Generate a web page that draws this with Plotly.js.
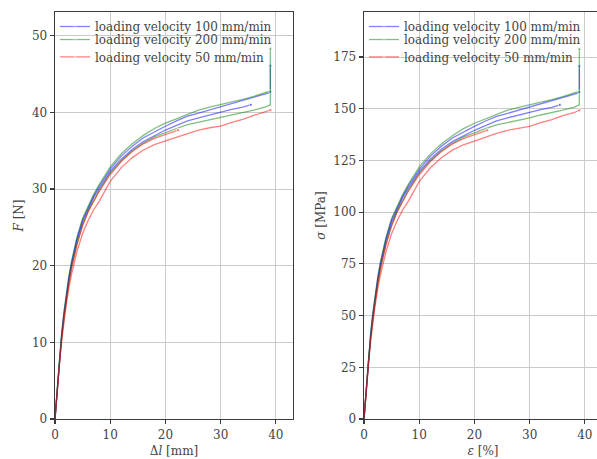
<!DOCTYPE html>
<html>
<head>
<meta charset="utf-8">
<script src="https://cdn.plot.ly/plotly-3.0.1.min.js"></script>
<style>
  html, body { margin: 0; padding: 0; overflow: hidden; background: #fff; }
  #chart { width: 620px; height: 459px; }
</style>
</head>
<body>
<div id="chart"></div>
<script>
// Tensile tests at three loading velocities.
// Left: force F [N] over elongation Δl [mm]; right: stress σ [MPa] over strain ε [%].
// Gauge length is 100 mm, so strain in % carries the same numbers as elongation in mm.

// 100 mm/min, specimen 1
const dl_v100_a = [0, 0.4, 0.8, 1.2, 1.6, 2.0, 2.5, 3.0, 4.0, 5.0, 6.0, 7.0, 8.0, 10, 12, 14, 16, 18, 20, 22, 24, 26, 28, 30, 32, 34, 36, 38, 39, 39];
const F_v100_a  = [0, 4.1, 7.9, 11.0, 13.7, 16.0, 18.4, 20.4, 23.6, 26.0, 27.6, 29.1, 30.4, 32.6, 34.3, 35.6, 36.7, 37.5, 38.2, 38.9, 39.5, 39.9, 40.3, 40.7, 41.1, 41.5, 41.9, 42.3, 42.6, 46.1];
const s_v100_a  = [0, 15.2, 29.3, 40.7, 50.7, 59.3, 68.1, 75.6, 87.4, 96.3, 102.2, 107.8, 112.6, 120.7, 127.0, 131.9, 135.9, 138.9, 141.5, 144.1, 146.3, 147.8, 149.3, 150.7, 152.2, 153.7, 155.2, 156.7, 157.8, 170.7];

// 100 mm/min, specimen 2
const dl_v100_b = [0, 0.4, 0.8, 1.2, 1.6, 2.0, 2.5, 3.0, 4.0, 5.0, 6.0, 7.0, 8.0, 10, 12, 14, 16, 18, 20, 22, 24, 26, 28, 30, 32, 34, 35.5];
const F_v100_b  = [0, 4.0, 7.7, 10.8, 13.4, 15.7, 18.1, 20.1, 23.3, 25.7, 27.4, 28.9, 30.1, 32.3, 33.9, 35.2, 36.2, 37.0, 37.7, 38.3, 38.9, 39.3, 39.7, 40.0, 40.4, 40.7, 41.0];
const s_v100_b  = [0, 14.8, 28.5, 40.0, 49.6, 58.1, 67.0, 74.4, 86.3, 95.2, 101.5, 107.0, 111.5, 119.6, 125.6, 130.4, 134.1, 137.0, 139.6, 141.9, 144.1, 145.6, 147.0, 148.1, 149.6, 150.7, 151.9];

// 200 mm/min, specimen 1
const dl_v200_a = [0, 0.4, 0.8, 1.2, 1.6, 2.0, 2.5, 3.0, 4.0, 5.0, 6.0, 7.0, 8.0, 10, 12, 14, 16, 18, 20, 22, 24, 26, 28, 30, 32, 34, 36, 38, 39, 39];
const F_v200_a  = [0, 4.2, 8.0, 11.2, 13.9, 16.2, 18.6, 20.6, 23.8, 26.2, 27.8, 29.3, 30.6, 32.9, 34.6, 35.9, 37.0, 37.9, 38.6, 39.2, 39.8, 40.3, 40.7, 41.0, 41.4, 41.7, 42.1, 42.5, 42.8, 48.3];
const s_v200_a  = [0, 15.6, 29.6, 41.5, 51.5, 60.0, 68.9, 76.3, 88.1, 97.0, 103.0, 108.5, 113.3, 121.9, 128.1, 133.0, 137.0, 140.4, 143.0, 145.2, 147.4, 149.3, 150.7, 151.9, 153.3, 154.4, 155.9, 157.4, 158.5, 178.9];

// 200 mm/min, specimen 2
const dl_v200_b = [0, 0.4, 0.8, 1.2, 1.6, 2.0, 2.5, 3.0, 4.0, 5.0, 6.0, 7.0, 8.0, 10, 12, 14, 16, 18, 20, 22, 24, 26, 28, 30, 32, 34, 36, 38, 39, 39];
const F_v200_b  = [0, 4.0, 7.6, 10.6, 13.2, 15.4, 17.8, 19.8, 22.9, 25.3, 27.1, 28.5, 29.8, 32.1, 33.7, 35.0, 36.0, 36.8, 37.4, 37.9, 38.4, 38.7, 39.0, 39.3, 39.7, 40.0, 40.3, 40.7, 41.0, 42.7];
const s_v200_b  = [0, 14.8, 28.1, 39.3, 48.9, 57.0, 65.9, 73.3, 84.8, 93.7, 100.4, 105.6, 110.4, 118.9, 124.8, 129.6, 133.3, 136.3, 138.5, 140.4, 142.2, 143.3, 144.4, 145.6, 147.0, 148.1, 149.3, 150.7, 151.9, 158.1];

// 50 mm/min, specimen 1
const dl_v50_a = [0, 0.4, 0.8, 1.2, 1.6, 2.0, 2.5, 3.0, 4.0, 5.0, 6.0, 7.0, 8.0, 10, 12, 14, 16, 18, 20, 22, 24, 26, 28, 30, 32, 34, 36, 38, 39];
const F_v50_a  = [0, 3.8, 7.2, 10.1, 12.6, 14.7, 17.0, 18.9, 21.9, 24.2, 25.9, 27.3, 28.4, 31.0, 32.8, 34.1, 35.1, 35.8, 36.3, 36.8, 37.3, 37.7, 38.0, 38.2, 38.7, 39.1, 39.6, 40.0, 40.3];
const s_v50_a  = [0, 14.1, 26.7, 37.4, 46.7, 54.4, 63.0, 70.0, 81.1, 89.6, 95.9, 101.1, 105.2, 114.8, 121.5, 126.3, 130.0, 132.6, 134.4, 136.3, 138.1, 139.6, 140.7, 141.5, 143.3, 144.8, 146.7, 148.1, 149.3];

// 50 mm/min, specimen 2
const dl_v50_b = [0, 0.4, 0.8, 1.2, 1.6, 2.0, 2.5, 3.0, 4.0, 5.0, 6.0, 7.0, 8.0, 10, 12, 14, 16, 18, 20, 22.3];
const F_v50_b  = [0, 3.9, 7.5, 10.5, 13.1, 15.3, 17.7, 19.7, 22.8, 25.2, 27.0, 28.4, 29.7, 31.9, 33.6, 34.9, 35.9, 36.6, 37.1, 37.7];
const s_v50_b  = [0, 14.4, 27.8, 38.9, 48.5, 56.7, 65.6, 73.0, 84.4, 93.3, 100.0, 105.2, 110.0, 118.1, 124.4, 129.3, 133.0, 135.6, 137.4, 139.6];

const legendLabels = ['loading velocity 100 mm/min', 'loading velocity 200 mm/min', 'loading velocity 50 mm/min'];
const xTicks = [0, 10, 20, 30, 40];
const fTicks = [0, 10, 20, 30, 40, 50];
const sTicks = [0, 25, 50, 75, 100, 125, 150, 175];

const BLUE = 'rgba(0,0,255,0.5)';
const GREEN = 'rgba(0,128,0,0.5)';
const RED = 'rgba(255,0,0,0.5)';
const FONT = 'DejaVu Serif, serif';

// one specimen curve, with a small dot where the record ends
function curve(x, y, color, axis, label, legendId) {
  const sizes = x.map((_, i) => (i === x.length - 1 ? 3.5 : 0));
  return {
    x: x, y: y,
    type: 'scatter', mode: 'lines+markers',
    line: { color: color, width: 1.3 },
    marker: { color: color, size: sizes },
    xaxis: axis === 1 ? 'x' : 'x2',
    yaxis: axis === 1 ? 'y' : 'y2',
    name: label || '',
    showlegend: !!label,
    legend: legendId,
    hoverinfo: 'skip'
  };
}

const traces = [
  curve(dl_v100_a, F_v100_a, BLUE, 1, legendLabels[0], 'legend'),
  curve(dl_v200_a, F_v200_a, GREEN, 1, legendLabels[1], 'legend2'),
  curve(dl_v50_a, F_v50_a, RED, 1, legendLabels[2], 'legend3'),
  curve(dl_v100_b, F_v100_b, BLUE, 1, null, 'legend'),
  curve(dl_v200_b, F_v200_b, GREEN, 1, null, 'legend'),
  curve(dl_v50_b, F_v50_b, RED, 1, null, 'legend'),

  curve(dl_v100_a, s_v100_a, BLUE, 2, legendLabels[0], 'legend4'),
  curve(dl_v200_a, s_v200_a, GREEN, 2, legendLabels[1], 'legend5'),
  curve(dl_v50_a, s_v50_a, RED, 2, legendLabels[2], 'legend6'),
  curve(dl_v100_b, s_v100_b, BLUE, 2, null, 'legend'),
  curve(dl_v200_b, s_v200_b, GREEN, 2, null, 'legend'),
  curve(dl_v50_b, s_v50_b, RED, 2, null, 'legend')
];

function axisStyle(extra) {
  return Object.assign({
    showline: true, mirror: true, linecolor: '#3a3a3a', linewidth: 1.4,
    showgrid: true, gridcolor: '#cbcbcb', gridwidth: 1.1,
    zeroline: false,
    ticks: 'outside', ticklen: 4, tickwidth: 1.2, tickcolor: '#3a3a3a',
    tickfont: { family: FONT, size: 12, color: '#444' },
    tickmode: 'array'
  }, extra);
}

// one legend box per entry so the rows keep a tight line spacing
function legendRow(x, y) {
  return {
    font: { family: FONT, size: 12, color: '#444' },
    bgcolor: 'rgba(255,255,255,0)',
    borderwidth: 0,
    xanchor: 'left', x: x,
    yanchor: 'top', y: y
  };
}
const rowY = [1, 0.968, 0.9253];
const LEFT_X = 0, RIGHT_X = 0.5649;

const layout = {
  width: 620, height: 459,
  margin: { l: 55, r: 18, t: 12, b: 40 },
  paper_bgcolor: '#fff', plot_bgcolor: '#fff',
  xaxis: axisStyle({
    domain: [0, 0.4351], range: [0, 43.1], tickvals: xTicks,
    title: { text: 'Δ<i>l</i> [mm]', font: { family: FONT, size: 12, color: '#444' }, standoff: 6 }
  }),
  yaxis: axisStyle({
    range: [0, 53.1], tickvals: fTicks,
    title: { text: '<i>F</i> [N]', font: { family: FONT, size: 12, color: '#444' }, standoff: 5 }
  }),
  xaxis2: axisStyle({
    domain: [0.5649, 1], range: [0, 43.1], tickvals: xTicks, anchor: 'y2',
    title: { text: '<i>ε</i> [%]', font: { family: FONT, size: 12, color: '#444' }, standoff: 6 }
  }),
  yaxis2: axisStyle({
    range: [0, 196.8], tickvals: sTicks, anchor: 'x2',
    title: { text: '<i>σ</i> [MPa]', font: { family: FONT, size: 12, color: '#444' }, standoff: 5 }
  }),
  legend: legendRow(LEFT_X, rowY[0]),
  legend2: legendRow(LEFT_X, rowY[1]),
  legend3: legendRow(LEFT_X, rowY[2]),
  legend4: legendRow(RIGHT_X, rowY[0]),
  legend5: legendRow(RIGHT_X, rowY[1]),
  legend6: legendRow(RIGHT_X, rowY[2]),
  showlegend: true
};

Plotly.newPlot('chart', traces, layout, { displayModeBar: false, staticPlot: true });
</script>
</body>
</html>
